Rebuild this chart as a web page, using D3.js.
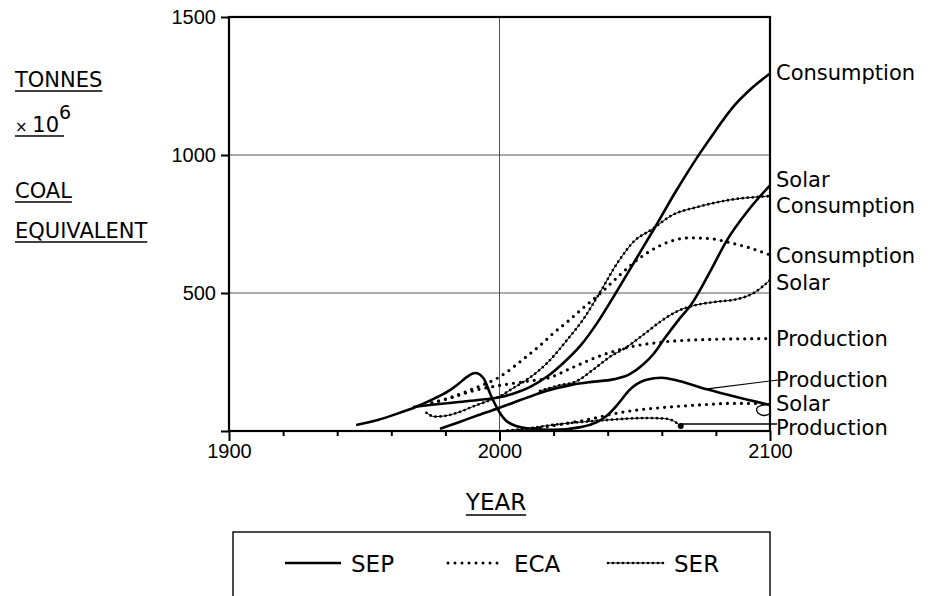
<!DOCTYPE html>
<html>
<head>
<meta charset="utf-8">
<script src="https://cdn.jsdelivr.net/npm/d3@7"></script>
<style>
  body { margin: 0; background: #fff; }
  svg { display: block; font-family: "DejaVu Sans", "Liberation Sans", sans-serif; }
</style>
</head>
<body>
<div id="chart"></div>
<script>
// Data: [year, tonnes x 10^6 coal equivalent]
const sepConsumption = [[1968,87],[1975,95],[1985,105],[1993,113],[2000,122],[2005,135],[2011,158],[2018,200],[2024,250],[2030,310],[2036,390],[2043,500],[2050,615],[2057,730],[2065,865],[2074,1005],[2080,1090],[2086,1170],[2093,1240],[2100,1295]];
const sepSolar = [[1978,8],[1985,32],[1992,57],[2000,84],[2008,113],[2015,138],[2021,155],[2027,168],[2034,178],[2042,187],[2048,205],[2053,240],[2057,280],[2061,335],[2066,400],[2071,460],[2078,580],[2084,690],[2092,800],[2100,890]];
const sepProduction = [[1947,22],[1955,40],[1962,62],[1969,87],[1976,118],[1982,150],[1985,172],[1988,196],[1991,210],[1994,192],[1997,125],[2000,68],[2003,33],[2010,10],[2020,4],[2030,14],[2036,32],[2040,58],[2044,100],[2048,148],[2054,185],[2060,193],[2066,182],[2077,150],[2088,122],[2100,94]];

const ecaConsumption = [[1975,102],[1982,122],[1990,152],[2000,196],[2010,270],[2015,310],[2020,355],[2025,395],[2030,438],[2038,505],[2045,570],[2052,628],[2058,665],[2064,690],[2070,700],[2078,697],[2085,683],[2092,665],[2100,638]];
const ecaSolar = [[2010,3],[2017,15],[2025,28],[2033,42],[2041,60],[2050,75],[2058,83],[2064,88],[2075,95],[2085,100],[2093,100],[2100,95]];
const ecaProduction = [[1975,102],[1982,120],[1990,145],[2000,165],[2010,180],[2018,192],[2027,230],[2036,268],[2048,304],[2060,322],[2075,331],[2100,335]];

const serConsumption = [[1973,66],[1976,52],[1980,55],[1985,68],[1990,88],[1995,106],[2000,125],[2005,155],[2011,192],[2018,250],[2025,330],[2031,405],[2037,500],[2044,615],[2050,690],[2056,728],[2064,783],[2073,811],[2085,837],[2100,851]];
const serSolar = [[2015,145],[2022,165],[2028,178],[2035,225],[2041,270],[2047,304],[2054,355],[2060,400],[2066,435],[2072,455],[2080,468],[2088,478],[2094,500],[2100,547]];
const serProduction = [[2003,2],[2010,8],[2018,20],[2025,28],[2032,34],[2040,40],[2048,45],[2055,47],[2061,45],[2064,38],[2067,18]];

const scenarios = ["SEP", "ECA", "SER"];
const yTickValues = [0, 500, 1000, 1500];
const xTickValues = [1900, 1920, 1940, 1960, 1980, 2000, 2020, 2040, 2060, 2080, 2100];
const xLabelYears = [1900, 2000, 2100];
const endLabels = ["Consumption", "Solar", "Consumption", "Consumption", "Solar", "Production", "Production", "Solar", "Production"];

/************************************
 * Layout
 ************************************/
const w = 932;
const h = 596;
const plot = { left: 229, right: 770, top: 17, bottom: 431 };

const x = d3.scaleLinear().domain([1900, 2100]).range([plot.left, plot.right]);
const y = d3.scaleLinear().domain([0, 1500]).range([plot.bottom, plot.top]);

const svg = d3.select("#chart")
  .append("svg")
  .attr("width", w)
  .attr("height", h);

// Grid lines
svg.append("g")
  .selectAll("line")
  .data([500, 1000])
  .enter()
  .append("line")
  .attr("x1", x(1900)).attr("x2", x(2100))
  .attr("y1", d => y(d)).attr("y2", d => y(d))
  .attr("stroke", "#555").attr("stroke-width", 1);

svg.append("line")
  .attr("x1", x(2000)).attr("x2", x(2000))
  .attr("y1", y(0)).attr("y2", y(1500))
  .attr("stroke", "#555").attr("stroke-width", 1);

// Axes
const yAxis = d3.axisLeft(y)
  .tickValues(yTickValues)
  .tickSize(8)
  .tickPadding(5)
  .tickFormat(d => d === 0 ? "" : d);

svg.append("g")
  .attr("transform", "translate(" + plot.left + ",0)")
  .call(yAxis)
  .call(g => g.select(".domain").remove())
  .call(g => g.selectAll("line").attr("stroke", "#000").attr("stroke-width", 2))
  .call(g => g.selectAll("text").attr("font-size", 20).attr("fill", "#000").attr("font-family", null));

const xAxis = d3.axisBottom(x)
  .tickValues(xTickValues)
  .tickSize(5)
  .tickPadding(8)
  .tickFormat(d => xLabelYears.includes(d) ? d : "");

svg.append("g")
  .attr("transform", "translate(0," + plot.bottom + ")")
  .call(xAxis)
  .call(g => g.select(".domain").remove())
  .call(g => g.selectAll("line").attr("stroke", "#000").attr("stroke-width", 2)
    .attr("y2", d => xLabelYears.includes(d) ? 10 : 5))
  .call(g => g.selectAll("text").attr("font-size", 20).attr("fill", "#000").attr("font-family", null));

// Frame
svg.append("rect")
  .attr("x", plot.left).attr("y", plot.top)
  .attr("width", plot.right - plot.left)
  .attr("height", plot.bottom - plot.top)
  .attr("fill", "none")
  .attr("stroke", "#000")
  .attr("stroke-width", 2.2);

/************************************
 * Curves
 ************************************/
const line = d3.line()
  .x(d => x(d[0]))
  .y(d => y(d[1]))
  .curve(d3.curveMonotoneX);

const drawSEP = (data) => {
  svg.append("path").datum(data).attr("d", line)
    .attr("fill", "none").attr("stroke", "#000").attr("stroke-width", 2.6)
    .attr("stroke-linejoin", "round");
};
const drawECA = (data) => {
  svg.append("path").datum(data).attr("d", line)
    .attr("fill", "none").attr("stroke", "#000").attr("stroke-width", 3.2)
    .attr("stroke-linecap", "round").attr("stroke-dasharray", "0 7");
};
const drawSER = (data) => {
  svg.append("path").datum(data).attr("d", line)
    .attr("fill", "none").attr("stroke", "#000").attr("stroke-width", 1);
  svg.append("path").datum(data).attr("d", line)
    .attr("fill", "none").attr("stroke", "#000").attr("stroke-width", 2.8)
    .attr("stroke-linecap", "round").attr("stroke-dasharray", "0 5");
};

drawECA(ecaConsumption);
drawECA(ecaProduction);
drawECA(ecaSolar);
drawSER(serConsumption);
drawSER(serSolar);
drawSER(serProduction);
drawSEP(sepConsumption);
drawSEP(sepSolar);
drawSEP(sepProduction);

// End marker of SER production
const serEnd = serProduction[serProduction.length - 1];
svg.append("circle")
  .attr("cx", x(serEnd[0])).attr("cy", y(serEnd[1]))
  .attr("r", 3).attr("fill", "#000");

/************************************
 * Right-hand labels and pointers
 ************************************/
const labelBaselines = [80, 187, 213, 263, 290, 346, 387, 411, 435];
svg.append("g")
  .selectAll("text")
  .data(endLabels)
  .enter()
  .append("text")
  .attr("x", plot.right + 6)
  .attr("y", (d, i) => labelBaselines[i])
  .attr("font-size", 21)
  .text(d => d);

// Pointer to SEP production
svg.append("line")
  .attr("x1", x(2076)).attr("y1", y(152))
  .attr("x2", plot.right + 8).attr("y2", 380)
  .attr("stroke", "#000").attr("stroke-width", 1.2);

// Pointer to SER production
svg.append("line")
  .attr("x1", x(serEnd[0])).attr("y1", 424)
  .attr("x2", plot.right + 7).attr("y2", 424)
  .attr("stroke", "#000").attr("stroke-width", 1.4);

// Hook beside the lower "Solar"
svg.append("path")
  .attr("d", "M771,404 Q752,405 758,413 Q764,418 771,413")
  .attr("fill", "none").attr("stroke", "#000").attr("stroke-width", 1.4);

/************************************
 * Axis titles
 ************************************/
const underlined = (txt, tx, ty, size) => {
  const t = svg.append("text")
    .attr("x", tx).attr("y", ty)
    .attr("font-size", size)
    .text(txt);
  const len = t.node().getComputedTextLength();
  svg.append("line")
    .attr("x1", tx).attr("x2", tx + len)
    .attr("y1", ty + 4).attr("y2", ty + 4)
    .attr("stroke", "#000").attr("stroke-width", 1.6);
  return t;
};

underlined("TONNES", 15, 87, 21);
underlined("COAL", 15, 198, 21);
underlined("EQUIVALENT", 15, 238, 21);

// x 10^6
const pow = svg.append("text").attr("x", 15).attr("y", 132).attr("font-size", 21);
pow.append("tspan").attr("font-size", 15).text("\u00d7 ");
pow.append("tspan").text("10");
pow.append("tspan").attr("dy", -13).attr("font-size", 19).text("6");
svg.append("line")
  .attr("x1", 15).attr("x2", 64)
  .attr("y1", 136).attr("y2", 136)
  .attr("stroke", "#000").attr("stroke-width", 1.6);

const yearText = svg.append("text")
  .attr("x", 496).attr("y", 510)
  .attr("font-size", 23)
  .attr("text-anchor", "middle")
  .text("YEAR");
const yl = yearText.node().getComputedTextLength();
svg.append("line")
  .attr("x1", 496 - yl / 2).attr("x2", 496 + yl / 2)
  .attr("y1", 515).attr("y2", 515)
  .attr("stroke", "#000").attr("stroke-width", 1.6);

/************************************
 * Legend
 ************************************/
svg.append("rect")
  .attr("x", 233).attr("y", 532)
  .attr("width", 537).attr("height", 80)
  .attr("fill", "none").attr("stroke", "#000").attr("stroke-width", 1.4);

const legendX = [285, 448, 608];
const legendY = 563;
scenarios.forEach((s, i) => {
  const seg = [[legendX[i], legendY], [legendX[i] + 56, legendY]];
  const p = svg.append("path")
    .attr("d", d3.line()(seg))
    .attr("fill", "none").attr("stroke", "#000");
  if (s === "SEP") p.attr("stroke-width", 2.6);
  if (s === "ECA") p.attr("stroke-width", 3).attr("stroke-linecap", "round").attr("stroke-dasharray", "0 7");
  if (s === "SER") {
    p.attr("stroke-width", 1);
    svg.append("path").attr("d", d3.line()(seg))
      .attr("fill", "none").attr("stroke", "#000").attr("stroke-width", 2.6)
      .attr("stroke-linecap", "round").attr("stroke-dasharray", "0 5");
  }
  svg.append("text")
    .attr("x", legendX[i] + 66).attr("y", legendY + 9)
    .attr("font-size", 23)
    .text(s);
});
</script>
</body>
</html>
